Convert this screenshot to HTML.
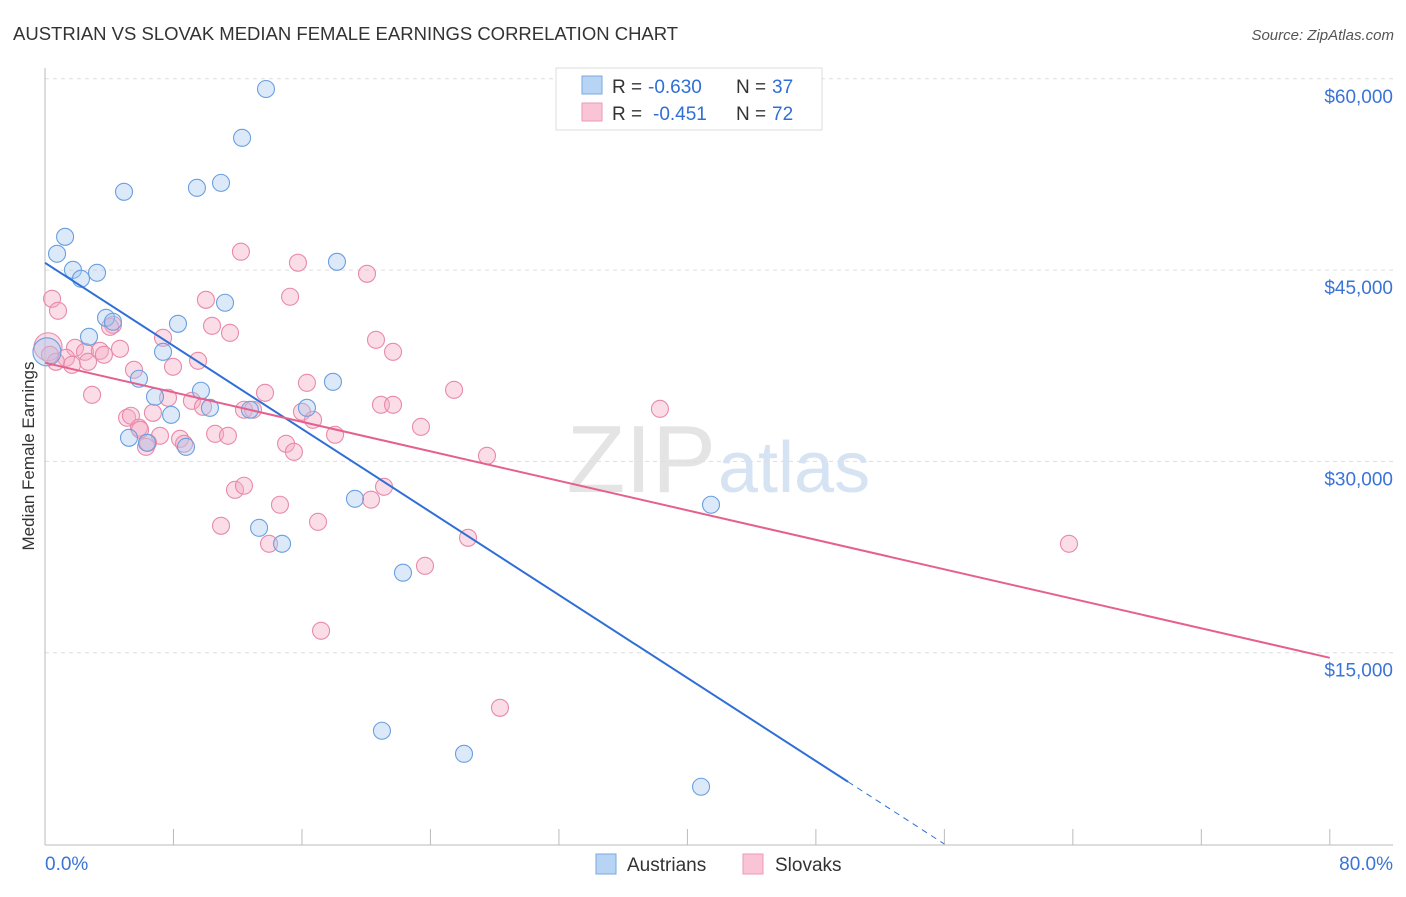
<!DOCTYPE html>
<html><head><meta charset="utf-8"><style>
body{margin:0;background:#fff;font-family:"Liberation Sans",sans-serif}
svg text{font-family:"Liberation Sans",sans-serif}
</style></head><body>
<svg id="c" width="1406" height="892">
<text x="13" y="40" font-size="18.5" fill="#333">AUSTRIAN VS SLOVAK MEDIAN FEMALE EARNINGS CORRELATION CHART</text>
<text x="1394" y="40" font-size="15" fill="#555" font-style="italic" text-anchor="end">Source: ZipAtlas.com</text>
<text x="716" y="492" font-size="96" fill="#e4e4e4" text-anchor="end" font-family="Liberation Serif">ZIP</text>
<text x="718" y="492" font-size="72" fill="#d5e3f3">atlas</text>
<g id="grid"></g><g id="axes"></g><g id="pts"></g><g id="trend"></g>
<text x="34" y="456" font-size="17" fill="#333" text-anchor="middle" transform="rotate(-90 34 456)">Median Female Earnings</text>
<g>
<rect x="556" y="68" width="266" height="62" fill="#fff" stroke="#ddd"/>
<rect x="582" y="76" width="20" height="18" fill="#b8d4f4" stroke="#7aa8e0"/>
<rect x="582" y="103" width="20" height="18" fill="#f9c4d6" stroke="#ec9ab6"/>
<text x="612" y="93" font-size="19" fill="#333">R =</text>
<text x="648" y="93" font-size="19" fill="#2f6fd6">-0.630</text>
<text x="736" y="93" font-size="19" fill="#333">N =</text>
<text x="772" y="93" font-size="19" fill="#2f6fd6">37</text>
<text x="612" y="120" font-size="19" fill="#333">R =</text>
<text x="653" y="120" font-size="19" fill="#2f6fd6">-0.451</text>
<text x="736" y="120" font-size="19" fill="#333">N =</text>
<text x="772" y="120" font-size="19" fill="#2f6fd6">72</text>
</g>
<g>
<rect x="596" y="854" width="20" height="20" fill="#b8d4f4" stroke="#7aa8e0"/>
<text x="627" y="871" font-size="19" fill="#333">Austrians</text>
<rect x="743" y="854" width="20" height="20" fill="#f9c4d6" stroke="#ec9ab6"/>
<text x="775" y="871" font-size="19" fill="#333">Slovaks</text>
</g>
</svg>
<script>
const yTicks=[15000,30000,45000,60000];
const yTickLabels=["$15,000","$30,000","$45,000","$60,000"];
const xTickLabels=["0.0%","80.0%"];
const ausX=[13.76,12.27,4.92,9.46,10.96,1.25,0.75,1.74,2.24,3.24,18.18,11.21,3.80,4.23,8.28,2.74,7.35,0.12,5.85,17.93,9.71,6.85,10.27,12.76,16.31,7.85,5.23,6.35,8.78,19.30,41.47,13.33,14.76,22.29,20.98,26.09,40.85];
const ausY=[59200,55370,51140,51450,51840,47610,46280,45020,44320,44790,45650,42440,41260,40950,40790,39770,38590,38590,36480,36240,35540,35070,34200,34050,34200,33650,31850,31460,31140,27070,26600,24790,23540,21270,8880,7070,4490];
const slvX=[12.20,15.75,20.05,0.44,0.81,10.02,15.26,4.23,10.40,11.52,7.35,20.61,0.19,1.87,2.49,3.42,4.67,1.31,1.68,2.68,3.67,5.54,7.97,9.53,21.67,16.31,13.70,25.47,2.93,7.66,9.15,9.84,12.39,12.95,20.92,21.67,16.00,16.69,38.29,5.11,5.35,6.72,5.85,7.16,8.41,10.59,11.39,18.06,23.41,6.29,6.41,8.66,15.01,15.50,27.52,11.83,12.39,21.11,20.30,14.63,10.96,17.00,13.95,26.34,23.66,63.76,17.19,28.33,0.68,4.05,0.31,5.92];
const slvY=[46440,45580,44710,42750,41810,42670,42910,40710,40630,40080,39690,39530,38990,38910,38590,38670,38830,38120,37570,37810,38360,37180,37420,37890,38590,36160,35380,35610,35220,34990,34750,34280,34050,34050,34440,34440,33890,33260,34120,33420,33580,33810,32640,32010,31770,32160,32010,32090,32710,31140,31460,31380,31380,30750,30440,27770,28090,28010,27000,26600,24950,25260,23540,24010,21810,23540,16720,10680,37810,40550,38360,32480];
const ausTrend=[45570,4880];   // y at x=0 and x=50
const slvTrend=[37730,14600];  // y at x=0 and x=80
const NS="http://www.w3.org/2000/svg";
const X=v=>45+v*16.06, Y=v=>844-v*191.3/15000;
function mk(t,a,p){const e=document.createElementNS(NS,t);for(const k in a)e.setAttribute(k,a[k]);document.getElementById(p).appendChild(e);return e;}
yTicks.forEach((t,i)=>{
 const g=mk('line',{x1:45,x2:1393,y1:Y(t),y2:Y(t),stroke:'#ddd','stroke-dasharray':'4 4'},'grid');
 
 
 const l=mk('text',{x:1393,y:Y(t)+24,'font-size':19,fill:'#3b74d6','text-anchor':'end'},'grid');
 l.textContent=yTickLabels[i];
 
 
});
mk('line',{x1:45,x2:45,y1:68,y2:845,stroke:'#bbb'},'axes');
mk('line',{x1:45,x2:1393,y1:845,y2:845,stroke:'#bbb'},'axes');
for(let i=1;i<=10;i++){mk('line',{x1:X(i*8),x2:X(i*8),y1:829,y2:845,stroke:'#bbb'},'axes');}
[0,80].forEach((v,i)=>{const t=mk('text',{x:i?1393:45,y:870,'font-size':19,fill:'#3b74d6','text-anchor':i?'end':'start'},'axes');t.textContent=xTickLabels[i];
 
 });
function pts(xs,ys,fill,stroke,name){xs.forEach((x,i)=>{const big=x<0.25;const c=mk('circle',{cx:X(x),cy:Y(ys[i]),r:big?14:8.5,fill:fill,'fill-opacity':0.4,stroke:stroke,'stroke-width':1.1},'pts');
 
 });}
pts(slvX,slvY,'#f5aac4','#e88aaa','slovak-point');
pts(ausX,ausY,'#a8c8f0','#6a9fe0','austrian-point');
const sl=(ausTrend[1]-ausTrend[0])/50;
const a1=mk('line',{x1:X(0),y1:Y(ausTrend[0]),x2:X(50),y2:Y(ausTrend[1]),stroke:'#2f6fd6','stroke-width':2},'trend');


const xe=-ausTrend[0]/sl;
const a2=mk('line',{x1:X(50),y1:Y(ausTrend[1]),x2:X(xe),y2:Y(0),stroke:'#2f6fd6','stroke-width':1,'stroke-dasharray':'6 5'},'trend');


const s1=mk('line',{x1:X(0),y1:Y(slvTrend[0]),x2:X(80),y2:Y(slvTrend[1]),stroke:'#e5608e','stroke-width':2},'trend');


</script>
</body></html>
